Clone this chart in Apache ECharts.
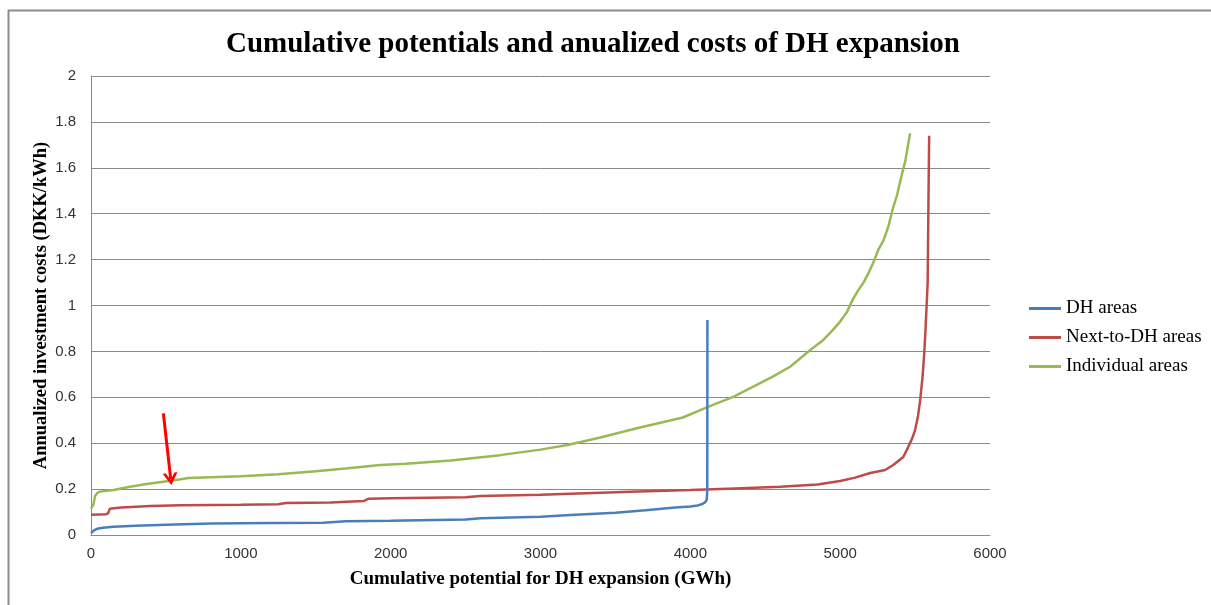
<!DOCTYPE html>
<html>
<head>
<meta charset="utf-8">
<script src="https://cdn.jsdelivr.net/npm/echarts@6/dist/echarts.min.js"></script>
<style>
  html, body { margin: 0; padding: 0; background: #fff; }
  #chart { width: 1211px; height: 605px; }
</style>
</head>
<body>
<div id="chart"></div>
<script>
// ---- Data ----
const titleText = 'Cumulative potentials and anualized costs of DH expansion';
const xAxisName = 'Cumulative potential for DH expansion (GWh)';
const yAxisName = 'Annualized investment costs (DKK/kWh)';
const seriesNames = ['DH areas', 'Next-to-DH areas', 'Individual areas'];

const dhAreas = [
  [0,0.008],[20,0.02],[40,0.027],[80,0.032],[150,0.036],[300,0.04],[500,0.045],
  [800,0.05],[1200,0.052],[1550,0.053],[1700,0.06],[2000,0.062],[2500,0.068],
  [2600,0.073],[3000,0.08],[3200,0.087],[3500,0.097],[3700,0.108],[3900,0.12],
  [4000,0.124],[4050,0.129],[4080,0.135],[4100,0.143],[4110,0.155],[4113,0.2],[4114,0.937]
];
const nextToDhAreas = [
  [0,0.088],[100,0.09],[115,0.095],[125,0.114],[200,0.12],[400,0.126],[600,0.13],
  [1000,0.132],[1250,0.134],[1300,0.139],[1600,0.142],[1820,0.148],[1850,0.158],
  [2000,0.16],[2500,0.165],[2600,0.17],[3000,0.175],[3300,0.182],[3600,0.188],
  [4000,0.196],[4300,0.203],[4600,0.21],[4850,0.22],[5000,0.235],[5100,0.25],
  [5200,0.27],[5300,0.283],[5354,0.305],[5421,0.34],[5454,0.383],[5480,0.42],[5500,0.457],
  [5520,0.52],[5534,0.588],[5550,0.69],[5561,0.79],[5570,0.9],[5574,0.958],[5580,0.965],
  [5584,1.1],[5590,1.5],[5594,1.74]
];
const individualAreas = [
  [0,0.115],[15,0.13],[27,0.17],[45,0.185],[60,0.189],[150,0.196],[260,0.21],
  [370,0.222],[520,0.235],[600,0.243],[650,0.248],[1000,0.256],[1250,0.265],
  [1500,0.278],[1700,0.29],[1930,0.305],[2100,0.31],[2400,0.325],[2730,0.348],
  [3000,0.372],[3180,0.392],[3400,0.425],[3650,0.466],[3950,0.512],[4110,0.556],
  [4290,0.603],[4332,0.617],[4443,0.654],[4550,0.69],[4666,0.733],[4800,0.806],
  [4888,0.85],[4950,0.893],[5000,0.93],[5044,0.97],[5088,1.031],[5121,1.067],
  [5154,1.098],[5188,1.14],[5220,1.185],[5254,1.242],[5290,1.285],[5321,1.343],
  [5355,1.43],[5377,1.474],[5411,1.569],[5435,1.63],[5455,1.707],[5467,1.75]
];
const arrowStart = [483, 0.53];
const arrowEnd = [532, 0.244];

const xMin = 0, xMax = 6000, xStep = 1000;
const yMin = 0, yMax = 2, yStep = 0.2;

const colors = ['#4A7EBB', '#BE4B48', '#98B954'];
const serif = "'Liberation Serif', 'DejaVu Serif', serif";
const sans = "'Liberation Sans', Arial, sans-serif";

const chart = echarts.init(document.getElementById('chart'));
chart.setOption({
  backgroundColor: '#ffffff',
  animation: false,
  title: {
    text: titleText,
    left: 221,
    top: 25,
    textStyle: { fontFamily: serif, fontWeight: 'bold', fontSize: 29, color: '#000' }
  },
  graphic: [
    { type: 'line', shape: { x1: 8, y1: 10.5, x2: 1211, y2: 10.5 }, style: { stroke: '#8c8c8c', lineWidth: 2 } },
    { type: 'line', shape: { x1: 8.5, y1: 10, x2: 8.5, y2: 605 }, style: { stroke: '#8c8c8c', lineWidth: 2 } }
  ],
  legend: {
    orient: 'vertical',
    left: 1024,
    top: 294,
    icon: 'rect',
    itemWidth: 32,
    itemHeight: 3,
    itemGap: 10,
    textStyle: { fontFamily: serif, fontSize: 19, color: '#000' },
    data: seriesNames
  },
  grid: { left: 91, right: 221, top: 76, bottom: 70 },
  xAxis: {
    type: 'value',
    min: xMin, max: xMax, interval: xStep,
    name: xAxisName,
    nameLocation: 'middle',
    nameGap: 35,
    nameMoveOverlap: false,
    nameTextStyle: { fontFamily: serif, fontWeight: 'bold', fontSize: 19, color: '#000' },
    axisLine: { show: true, lineStyle: { color: '#8a8a8a', width: 1 } },
    axisTick: { show: false },
    splitLine: { show: false },
    axisLabel: { fontFamily: sans, fontSize: 15, color: '#333', margin: 11, formatter: (v) => String(v) }
  },
  yAxis: {
    type: 'value',
    min: yMin, max: yMax, interval: yStep,
    name: yAxisName,
    nameLocation: 'middle',
    nameGap: 40,
    nameMoveOverlap: false,
    nameTextStyle: { fontFamily: serif, fontWeight: 'bold', fontSize: 18.5, color: '#000' },
    axisLine: { show: true, lineStyle: { color: '#8a8a8a', width: 1 } },
    axisTick: { show: false },
    splitLine: { show: true, lineStyle: { color: '#8a8a8a', width: 1 } },
    axisLabel: { fontFamily: sans, fontSize: 15, color: '#333', margin: 15 }
  },
  series: [
    {
      name: seriesNames[0], type: 'line', data: dhAreas, symbol: 'none',
      lineStyle: { color: colors[0], width: 2.5 }, itemStyle: { color: colors[0] }, z: 3
    },
    {
      name: seriesNames[1], type: 'line', data: nextToDhAreas, symbol: 'none',
      lineStyle: { color: colors[1], width: 2.5 }, itemStyle: { color: colors[1] }, z: 2
    },
    {
      name: seriesNames[2], type: 'line', data: individualAreas, symbol: 'none',
      lineStyle: { color: colors[2], width: 2.5 }, itemStyle: { color: colors[2] }, z: 1,
      markLine: {
        silent: true,
        symbol: ['none', 'path://M0,12 L7,0 L14,12 L11,12 L7,5 L3,12 Z'],
        symbolSize: [15, 12],
        label: { show: false },
        lineStyle: { color: '#ff0000', width: 3, type: 'solid' },
        data: [[{ coord: arrowStart }, { coord: arrowEnd }]]
      }
    }
  ]
});
</script>
</body>
</html>
